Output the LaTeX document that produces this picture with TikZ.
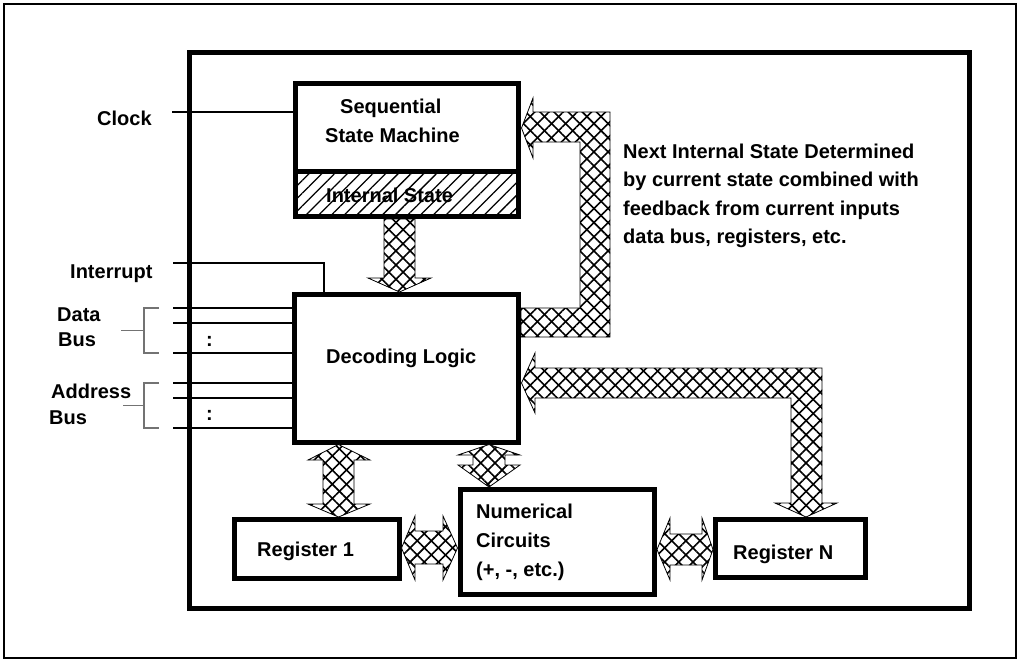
\documentclass[tikz,border=0pt]{standalone}
\usepackage{fontspec}
\setmainfont{Liberation Sans}
\usetikzlibrary{patterns.meta}

\tikzset{
  x=1pt, y=-1pt,
  lbl/.style={font=\fontsize{20}{24}\selectfont\bfseries, inner sep=0pt, anchor=base west},
  blk/.style={draw, line width=5pt, fill=white, inner sep=0pt, outer sep=0pt},
  wire/.style={line width=2pt},
  brace/.style={draw=black!55, line width=1.2pt},
  xhatch/.style={fill=white,
    postaction={pattern={Lines[angle=45, distance=10pt, line width=1.6pt]}},
    postaction={pattern={Lines[angle=-45, distance=10pt, line width=1.6pt]}},
    postaction={draw, line width=0.8pt, line join=miter}},
  shade45/.style={fill=white,
    postaction={pattern={Lines[angle=45, distance=9pt, line width=1.3pt]}},
    postaction={draw, line width=5pt}},
}

\begin{document}
\begin{tikzpicture}
\useasboundingbox (0,0) rectangle (1019,661);

% frames
\draw[line width=2.5pt] (4,4) rectangle (1016,658);
\draw[line width=5pt] (189.5,52.5) rectangle (969,608);

% main blocks
\node[blk, minimum width=223.5pt, minimum height=88.5pt] (ssm) at (406.75,127.25) {};
\node[blk, shade45, minimum width=223.5pt, minimum height=45pt] (ist) at (406.75,194) {};
\node[blk, minimum width=224pt, minimum height=148pt] (dec) at (406.5,368) {};
\node[blk, minimum width=164.5pt, minimum height=59pt] (reg1) at (316.75,549) {};
\node[blk, minimum width=194.5pt, minimum height=104.5pt] (num) at (557.25,541.75) {};
\node[blk, minimum width=149.5pt, minimum height=58pt] (regn) at (790.25,548.5) {};

% block labels
\node[lbl] (tseq) at (340,113) {Sequential};
\node[lbl] (tsm) at (325,142.5) {State Machine};
\node[lbl] (tis) at (326,202.5) {Internal State};
\node[lbl] (tdec) at (326,363) {Decoding Logic};
\node[lbl] (tr1) at (257,556.5) {Register 1};
\node[lbl] (trn) at (733,559) {Register N};
\node[lbl] (tn1) at (476,518) {Numerical};
\node[lbl] (tn2) at (476,547.5) {Circuits};
\node[lbl] (tn3) at (476,576) {(+, -, etc.)};

% note on the feedback path
\node[lbl] (nt1) at (623,158) {Next Internal State Determined};
\node[lbl] (nt2) at (623,186.5) {by current state combined with};
\node[lbl] (nt3) at (623,215) {feedback from current inputs};
\node[lbl] (nt4) at (623,243.5) {data bus, registers, etc.};

% input signals
\node[lbl] (tclk) at (97,125) {Clock};
\node[lbl] (tint) at (70,278) {Interrupt};
\node[lbl] (tdata) at (57,321.5) {Data};
\node[lbl] (tdbus) at (58,346) {Bus};
\node[lbl] (taddr) at (51,398) {Address};
\node[lbl] (tabus) at (49,424) {Bus};
\node[lbl] (dcol) at (206,346) {:};
\node[lbl] (acol) at (206,420) {:};

\coordinate (clkS) at (172,112);
\draw[wire] (clkS) -- (clkS -| ssm.west);
\coordinate (intS) at (173,263);
\coordinate (intD) at (324,263);
\draw[wire] (intS) -- (intD) -- (intD |- dec.north);
\foreach \yy in {308,323,353,383,398,428}
  \draw[wire] (173,\yy) -- (dec.west |- 173,\yy);

% bus braces
\draw[brace] (159,308) -- (144,308) -- (144,353) -- (159,353);
\draw[brace] (121,330.5) -- (144,330.5);
\draw[brace] (159,383) -- (144,383) -- (144,428) -- (159,428);
\draw[brace] (123,405.5) -- (144,405.5);

% internal state -> decoding logic
\path[xhatch] (384,219) -- (384,278) -- (368,278) -- (399.5,292) -- (431,278)
  -- (415,278) -- (415,219) -- cycle;

% decoding logic -> state machine feedback
\path[xhatch] (521,308) -- (580,308) -- (580,142) -- (533,142) -- (533,158)
  -- (521.5,128) -- (533,98) -- (533,112) -- (610,112) -- (610,337) -- (521,337) -- cycle;

% register N <-> decoding logic
\path[xhatch] (806,517) -- (837,503) -- (822,503) -- (822,368) -- (535,368)
  -- (535,353) -- (521.5,383) -- (535,413) -- (535,398) -- (791,398)
  -- (791,503) -- (775,503) -- cycle;

% decoding logic <-> register 1
\path[xhatch] (338.5,444.5) -- (370,460) -- (354,460) -- (354,504) -- (370,504)
  -- (338.5,517) -- (308,504) -- (323,504) -- (323,460) -- (308,460) -- cycle;

% decoding logic <-> numerical circuits
\path[xhatch] (489,444.5) -- (520,455) -- (505,455) -- (505,465) -- (520,465)
  -- (489,487) -- (458,465) -- (473,465) -- (473,455) -- (458,455) -- cycle;

% register 1 <-> numerical circuits
\path[xhatch] (401.5,548) -- (415,516) -- (415,531) -- (443,531) -- (443,516)
  -- (457.5,548) -- (443,580) -- (443,564) -- (415,564) -- (415,580) -- cycle;

% numerical circuits <-> register N
\path[xhatch] (657,549.5) -- (670,518) -- (670,534) -- (702,534) -- (702,518)
  -- (713,549.5) -- (702,580) -- (702,565) -- (670,565) -- (670,580) -- cycle;
\end{tikzpicture}
\end{document}
